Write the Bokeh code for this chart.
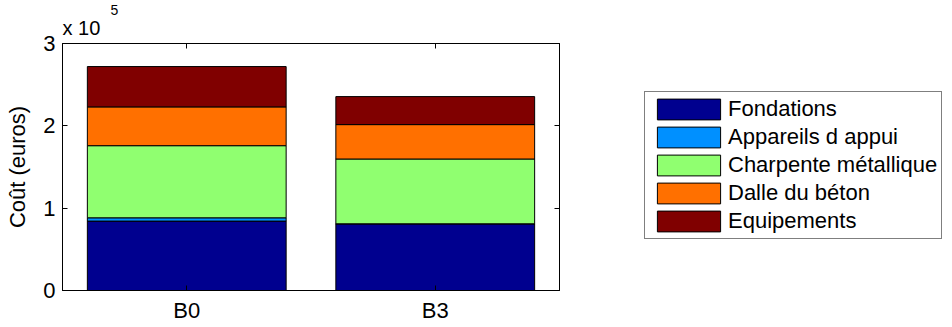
from bokeh.plotting import figure
from bokeh.layouts import row
from bokeh.models import (ColumnDataSource, Range1d, FixedTicker, LinearAxis,
                          Legend, LegendItem, Title)
from bokeh.embed import file_html
from bokeh.resources import INLINE

# ---- data (euros) ----
bridges = ["B0", "B3"]
x_pos = [1, 2]
series_names = ["Fondations", "Appareils d appui", "Charpente métallique",
                "Dalle du béton", "Equipements"]
fondations = [84300, 81000]
appareils = [4000, 0]
charpente = [87600, 78700]
dalle = [47100, 41800]
equipements = [49000, 34000]
y_ticks = [0, 100000, 200000, 300000]
y_tick_labels = ["0", "1", "2", "3"]

colors = ["#00008F", "#0090FF", "#90FF70", "#FF7000", "#800000"]
keys = ["fondations", "appareils", "charpente", "dalle", "equipements"]

source = ColumnDataSource(dict(x=x_pos, fondations=fondations, appareils=appareils,
                               charpente=charpente, dalle=dalle, equipements=equipements))

FONT = "Liberation Sans"
FS = "22px"

p = figure(width=568, height=327, output_backend="svg",
           toolbar_location=None, x_range=Range1d(0.5, 2.5),
           y_range=Range1d(0, 300000), min_border_left=62, min_border_right=9,
           min_border_top=43, min_border_bottom=37,
           title="5", title_location="above")
p.background_fill_color = "white"
p.border_fill_color = "white"
p.outline_line_color = "black"
p.outline_line_width = 1
p.xgrid.visible = False
p.ygrid.visible = False
# exponent (outermost title) : the superscript "5"
p.title.text_font = FONT
p.title.text_font_size = "14px"
p.title.text_font_style = "normal"
p.title.text_color = "black"
p.title.align = "left"
p.title.offset = 48
p.title.standoff = -9

renderers = p.vbar_stack(keys, x="x", width=0.8, source=source, color=colors,
                         line_color="black", line_width=1)

# axes
xa = p.xaxis[0]
xa.ticker = FixedTicker(ticks=x_pos)
xa.major_label_overrides = {x: b for x, b in zip(x_pos, bridges)}
ya = p.yaxis[0]
ya.ticker = FixedTicker(ticks=y_ticks)
ya.major_label_overrides = {t: l for t, l in zip(y_ticks, y_tick_labels)}
ya.axis_label = "Coût (euros)"
ya.axis_label_text_font_style = "normal"
ya.axis_label_text_font = FONT
ya.axis_label_text_font_size = FS
ya.axis_label_text_color = "black"
ya.axis_label_standoff = 10

for ax in (xa, ya):
    ax.major_tick_in = 5
    ax.major_tick_out = 0
    ax.minor_tick_in = 0
    ax.minor_tick_out = 0
    ax.major_label_text_font = FONT
    ax.major_label_text_font_size = FS
    ax.major_label_text_color = "black"
    ax.axis_line_color = "black"
    ax.major_tick_line_color = "black"
    ax.major_label_standoff = 7

top = LinearAxis(ticker=FixedTicker(ticks=x_pos), major_label_text_font_size="0px",
                 major_tick_in=5, major_tick_out=0, minor_tick_in=0, minor_tick_out=0,
                 axis_line_color="black", major_tick_line_color="black",
                 major_label_standoff=0)
right = LinearAxis(ticker=FixedTicker(ticks=y_ticks), major_label_text_font_size="0px",
                   major_tick_in=5, major_tick_out=0, minor_tick_in=0, minor_tick_out=0,
                   axis_line_color="black", major_tick_line_color="black",
                   major_label_standoff=0)
p.add_layout(top, "above")
p.add_layout(right, "right")
p.add_layout(Title(text="x 10", text_font=FONT, text_font_size="20px", text_color="black",
                   text_font_style="normal", align="left", offset=0, standoff=9), "above")

# ---- legend panel ----
p2 = figure(width=384, height=327, output_backend="svg", toolbar_location=None,
            x_range=Range1d(0, 1), y_range=Range1d(0, 1),
            x_axis_location=None, y_axis_location=None,
            min_border_left=0, min_border_right=0, min_border_top=0, min_border_bottom=0)
p2.grid.visible = False
p2.outline_line_color = None
p2.background_fill_color = "white"
p2.border_fill_color = "white"
hidden = ColumnDataSource(dict(x=[-10], y=[-10]))
leg_renderers = [p2.rect(x="x", y="y", width=1, height=1, source=hidden,
                         fill_color=c, line_color="black", line_width=1) for c in colors]

legend = Legend(items=[LegendItem(label=n, renderers=[r]) for n, r in zip(series_names, leg_renderers)],
                location=(76, 51), orientation="vertical",
                glyph_width=79, glyph_height=26, label_height=26, label_standoff=0,
                spacing=2, padding=4, margin=0,
                label_text_font=FONT, label_text_font_size=FS, label_text_color="black",
                border_line_color="black", border_line_width=1,
                background_fill_color="white", background_fill_alpha=1)
p2.add_layout(legend, "center")

layout = row(p, p2, spacing=0)
open("out.html", "w").write(file_html(layout, INLINE))
